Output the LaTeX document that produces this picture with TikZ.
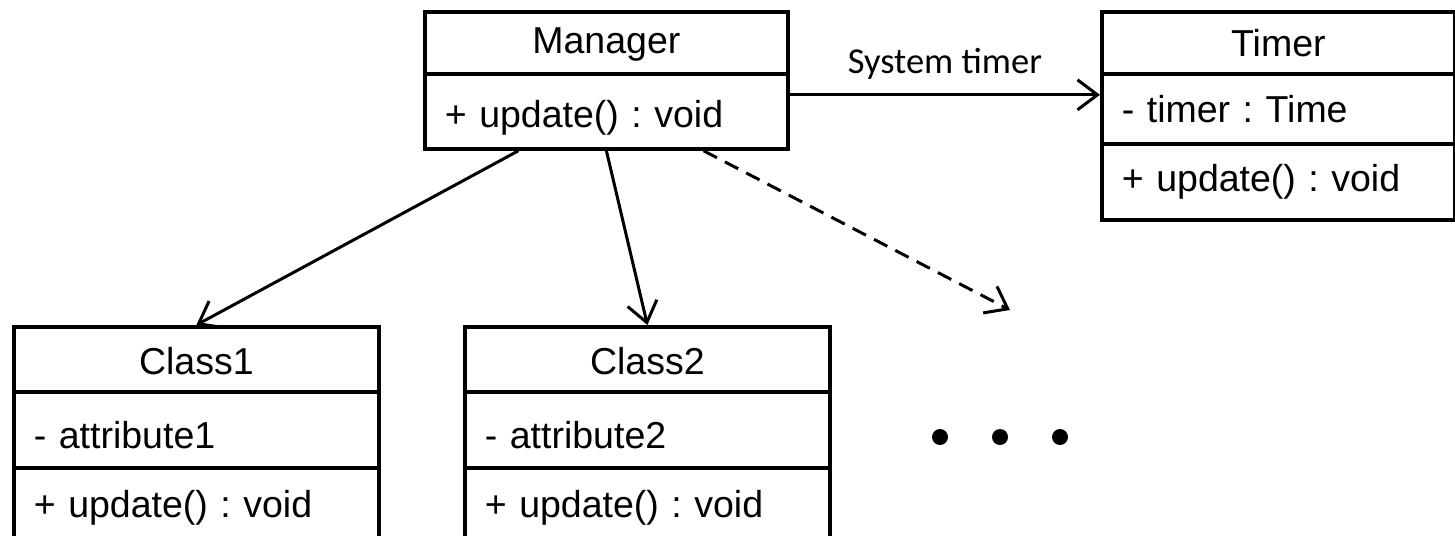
\documentclass[tikz,border=0pt]{standalone}
\usepackage{fontspec}
\setmainfont{Liberation Sans}
\newfontfamily\labelfont{Carlito}
\usetikzlibrary{arrows.meta,calc}
\frenchspacing

% lower a compartment's text without changing the compartment itself
\newcommand{\lowered}[2]{\raisebox{-#1}[\height][\depth]{#2}}

\tikzset{
  cell/.style={draw, line width=3.8pt, anchor=north west, inner ysep=0pt, inner xsep=20pt,
               font=\fontsize{37.5pt}{44pt}\selectfont},
  cname/.style={cell, align=center},
  cmember/.style={cell, align=left},
  link/.style={line width=3pt, -{Straight Barb[length=20pt,width=30pt,line width=3pt]}},
  linkdash/.style={link, dash pattern=on 15pt off 9pt},
}

\begin{document}
\begin{tikzpicture}[x=1pt, y=-1pt]
  \useasboundingbox (0,0) rectangle (1455,535);
  \clip (0,0) rectangle (1455,535);

  % Manager
  \node[cname, text width=323pt, minimum height=62pt] (mgr) at (423,10) {\lowered{2pt}{Manager}};
  \node[cmember, text width=323pt, minimum height=75pt] (mgrop) at (423,72) {\lowered{6pt}{+ update() : void}};

  % Timer
  \node[cname, text width=313pt, minimum height=62pt] (tmr) at (1100,10) {Timer};
  \node[cmember, text width=313pt, minimum height=70pt] (tmrattr) at (1100,72) {- timer : Time};
  \node[cmember, text width=313pt, minimum height=76pt] (tmrop) at (1100,142) {+ update() : void};

  % Class1
  \node[cname, text width=325pt, minimum height=65pt] (ca) at (12,325) {\lowered{2pt}{Class1}};
  \node[cmember, text width=325pt, minimum height=76pt] (caattr) at (12,390) {\lowered{5pt}{- attribute1}};
  \node[cmember, text width=325pt, minimum height=80pt] (caop) at (12,466) {+ update() : void};

  % Class2
  \node[cname, text width=325pt, minimum height=65pt] (cb) at (463,325) {\lowered{2pt}{Class2}};
  \node[cmember, text width=325pt, minimum height=76pt] (cbattr) at (463,390) {\lowered{5pt}{- attribute2}};
  \node[cmember, text width=325pt, minimum height=80pt] (cbop) at (463,466) {+ update() : void};

  % further classes
  \coordinate (more) at (1010,310);
  \foreach \x in {940,1000,1060} \fill (\x,437) circle (8pt);

  % associations
  \coordinate (tstart) at ($(mgrop.north east)!0.29!(mgrop.south east)$);
  \draw[link] (tstart) -- (tstart -| tmrattr.west)
    node[midway, above=11pt, font=\labelfont\fontsize{36.5pt}{42pt}\selectfont] (tlabel) {System timer};
  \draw[link] ($(mgrop.south west)!0.26!(mgrop.south east)$) -- (ca.north);
  \draw[link] (mgrop.south) -- (cb.north);
  \draw[linkdash] ($(mgrop.south west)!0.765!(mgrop.south east)$) -- (more);
\end{tikzpicture}
\end{document}
